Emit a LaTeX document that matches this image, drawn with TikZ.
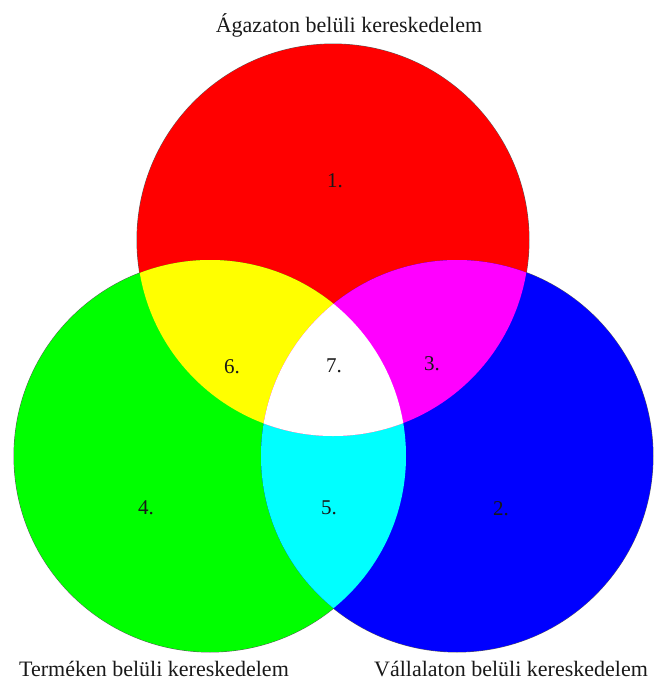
\documentclass[tikz,border=0pt]{standalone}
\usepackage{fontspec}
\setmainfont{Liberation Serif}
\definecolor{cR}{RGB}{255,0,0}
\definecolor{cG}{RGB}{0,255,0}
\definecolor{cB}{RGB}{0,0,255}
\definecolor{cY}{RGB}{255,255,0}
\definecolor{cM}{RGB}{255,0,255}
\definecolor{cC}{RGB}{0,255,255}
\definecolor{cW}{RGB}{255,255,255}
\begin{document}
\begin{tikzpicture}[x=1pt,y=-1pt,
  lbl/.style={font=\fontsize{22}{24}\selectfont, inner sep=0pt, text=black!90},
  num/.style={font=\fontsize{21}{24}\selectfont, inner sep=0pt, text=black!90},
  rim/.style={line width=0.9pt, draw=black!65}]
\useasboundingbox (0,0) rectangle (654,681);
\def\rad{196pt}
\coordinate (R) at (333,240);
\coordinate (G) at (210,456);
\coordinate (B) at (457,456);
% outer rims
\draw[rim] (R) circle[radius=\rad];
\draw[rim] (G) circle[radius=\rad];
\draw[rim] (B) circle[radius=\rad];
% base fills
\fill[cR] (R) circle[radius=\rad];
\fill[cG] (G) circle[radius=\rad];
\fill[cB] (B) circle[radius=\rad];
% cyan: green and blue
\begin{scope}
  \clip (G) circle[radius=\rad];
  \fill[cC] (B) circle[radius=\rad];
\end{scope}
% yellow, magenta, white
\begin{scope}
  \clip (R) circle[radius=\rad];
  \fill[cY] (G) circle[radius=\rad];
  \fill[cM] (B) circle[radius=\rad];
  \clip (G) circle[radius=\rad];
  \fill[cW] (B) circle[radius=\rad];
\end{scope}
% labels
\node[lbl, anchor=base] (tA) at (349,32) {Ágazaton belüli kereskedelem};
\node[lbl, anchor=base] (tT) at (154,676) {Terméken belüli kereskedelem};
\node[lbl, anchor=base] (tV) at (511,676) {Vállalaton belüli kereskedelem};
\node[num] (n1) at (335,181) {1.};
\node[num] (n6) at (232,367) {6.};
\node[num] (n7) at (334,366) {7.};
\node[num] (n3) at (432,364) {3.};
\node[num] (n4) at (146,508) {4.};
\node[num] (n5) at (329,508) {5.};
\node[num] (n2) at (501,509) {2.};
\end{tikzpicture}
\end{document}
